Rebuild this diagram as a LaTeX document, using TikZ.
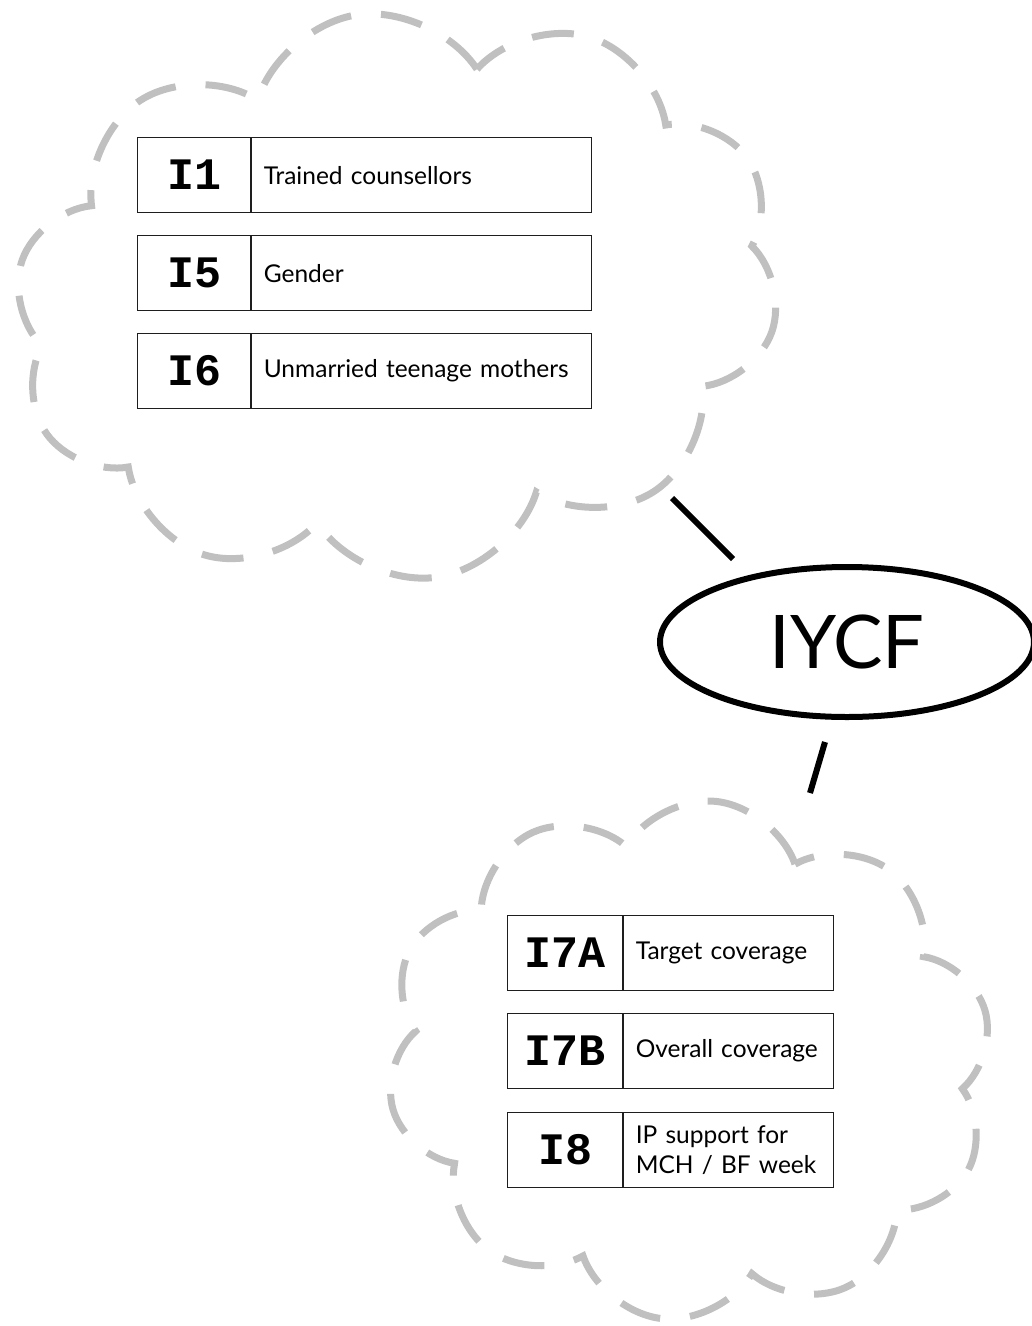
\documentclass[tikz,border=0pt]{standalone}
\usepackage{fontspec}
\usetikzlibrary{shapes.symbols,shapes.geometric}
\newfontfamily\descfont{Lato}
\newfontfamily\codefont{Liberation Mono}
\definecolor{cloudgray}{RGB}{192,192,192}
\definecolor{cellline}{RGB}{30,30,30}
\begin{document}
\begin{tikzpicture}[x=1pt,y=-1pt,
  puffy/.style={cloud, cloud puffs=10, cloud puff arc=130, cloud ignores aspect,
    draw=cloudgray, line width=7pt, dash pattern=on 42pt off 30pt, inner sep=0pt},
  codecell/.style={draw=cellline, fill=white, line width=1.2pt, anchor=north west,
    minimum height=75pt, inner sep=0pt,
    font=\codefont\bfseries\fontsize{45}{45}\selectfont},
  desccell/.style={draw=cellline, fill=white, line width=1.2pt, anchor=north west,
    minimum height=75pt, inner xsep=12pt, inner ysep=0pt, align=left,
    font=\descfont\fontsize{24.5}{30}\selectfont},
  link/.style={line width=6pt}]
\useasboundingbox (0,0) rectangle (1032,1326);

% dashed clouds
\node[puffy, minimum width=770pt, minimum height=568pt, rotate=8] (topcloud) at (397,296) {};
\node[puffy, minimum width=608pt, minimum height=520pt, rotate=-6] (botcloud) at (689,1060) {};

% upper group
\node[codecell, minimum width=113pt] (c1) at (137,137) {I1};
\node[desccell, minimum width=340pt, text width=316pt] (d1) at (c1.north east) {Trained counsellors};
\node[codecell, minimum width=113pt] (c5) at (137,235) {I5};
\node[desccell, minimum width=340pt, text width=316pt] (d5) at (c5.north east) {Gender};
\node[codecell, minimum width=113pt] (c6) at (137,333) {I6};
\node[desccell, minimum width=340pt, text width=316pt] (d6) at (c6.north east) {Unmarried teenage mothers};

% lower group
\node[codecell, minimum width=115pt] (c7a) at (507,915) {I7A};
\node[desccell, minimum width=210pt, text width=186pt] (d7a) at (c7a.north east) {Target coverage};
\node[codecell, minimum width=115pt] (c7b) at (507,1013) {I7B};
\node[desccell, minimum width=210pt, text width=186pt] (d7b) at (c7b.north east) {Overall coverage};
\node[codecell, minimum width=115pt] (c8) at (507,1112) {I8};
\node[desccell, minimum width=210pt, text width=186pt] (d8) at (c8.north east) {IP support for\\MCH / BF week};

% central topic
\node[ellipse, draw, line width=6pt, minimum width=374pt, minimum height=150pt, inner sep=0pt,
  font=\descfont\fontsize{74}{74}\selectfont] (iycf) at (847,642) {IYCF};

% connectors between the clouds and the topic
\coordinate (topTail) at (672,498);
\coordinate (topHead) at (733,559);
\coordinate (botHead) at (825,742);
\coordinate (botTail) at (810,793);
\draw[link] (topTail) -- (topHead);
\draw[link] (botHead) -- (botTail);
\end{tikzpicture}
\end{document}
